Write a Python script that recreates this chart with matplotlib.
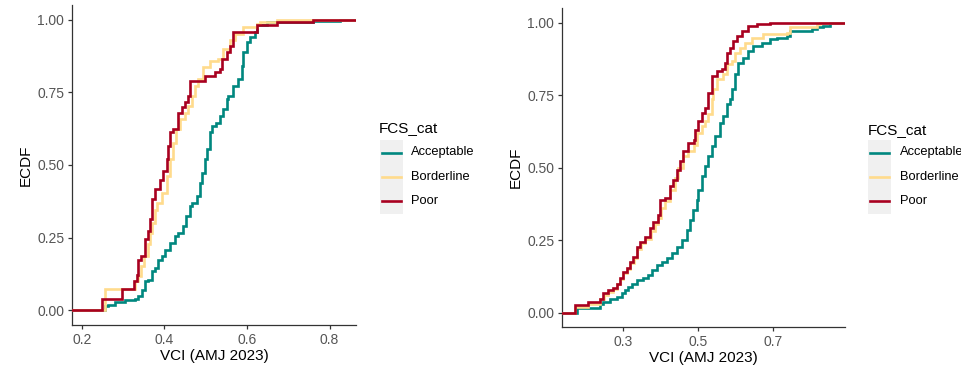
import numpy as np
import matplotlib
matplotlib.use("Agg")
import matplotlib.pyplot as plt
from matplotlib.lines import Line2D
from matplotlib.patches import Rectangle

plt.rcParams["font.family"] = ["Liberation Sans", "DejaVu Sans"]

categories = ["Acceptable", "Borderline", "Poor"]
colors = {"Acceptable": "#00877F", "Borderline": "#FFDB8C", "Poor": "#A8001F"}

# ECDF step points (VCI value, cumulative share) for the first panel
left_acceptable_x = [0.257, 0.264, 0.280, 0.304, 0.328, 0.336, 0.345, 0.353, 0.361, 0.369,
                     0.377, 0.385, 0.393, 0.401, 0.413, 0.425, 0.433, 0.445, 0.453, 0.462,
                     0.466, 0.478, 0.486, 0.490, 0.498, 0.502, 0.510, 0.514, 0.526, 0.535,
                     0.543, 0.551, 0.555, 0.567, 0.579, 0.587, 0.591, 0.599, 0.607, 0.620,
                     0.623, 0.648, 0.760, 0.825]
left_acceptable_y = [0.014, 0.020, 0.028, 0.037, 0.039, 0.048, 0.071, 0.100, 0.106, 0.134,
                     0.146, 0.175, 0.186, 0.209, 0.232, 0.255, 0.267, 0.290, 0.324, 0.359,
                     0.370, 0.393, 0.439, 0.474, 0.520, 0.554, 0.612, 0.634, 0.646, 0.669,
                     0.692, 0.727, 0.738, 0.772, 0.795, 0.841, 0.888, 0.922, 0.939, 0.957,
                     0.980, 0.990, 0.995, 1.000]

left_borderline_x = [0.256, 0.329, 0.335, 0.343, 0.351, 0.359, 0.366, 0.371, 0.378, 0.382,
                     0.393, 0.405, 0.413, 0.421, 0.429, 0.438, 0.450, 0.458, 0.466, 0.474,
                     0.482, 0.494, 0.510, 0.530, 0.543, 0.559, 0.571, 0.591, 0.623, 0.631,
                     0.672]
left_borderline_y = [0.074, 0.100, 0.117, 0.152, 0.186, 0.230, 0.265, 0.300, 0.345, 0.370,
                     0.405, 0.462, 0.520, 0.577, 0.623, 0.658, 0.680, 0.703, 0.738, 0.772,
                     0.795, 0.836, 0.859, 0.864, 0.899, 0.928, 0.951, 0.974, 0.985, 0.993,
                     1.000]

left_poor_x = [0.249, 0.296, 0.327, 0.333, 0.336, 0.343, 0.353, 0.359, 0.365, 0.370,
               0.377, 0.389, 0.397, 0.405, 0.409, 0.413, 0.421, 0.433, 0.442, 0.450,
               0.458, 0.462, 0.498, 0.522, 0.535, 0.539, 0.551, 0.559, 0.567, 0.623,
               0.672, 0.761]
left_poor_y = [0.040, 0.074, 0.100, 0.123, 0.175, 0.186, 0.244, 0.272, 0.313, 0.382,
               0.416, 0.450, 0.480, 0.520, 0.566, 0.612, 0.623, 0.680, 0.698, 0.715,
               0.738, 0.790, 0.807, 0.819, 0.830, 0.864, 0.888, 0.910, 0.956, 0.980,
               0.990, 1.000]

# ECDF step points for the second panel
right_acceptable_x = [0.177, 0.240, 0.248, 0.266, 0.284, 0.297, 0.306, 0.315, 0.324, 0.337,
                      0.355, 0.368, 0.377, 0.391, 0.404, 0.417, 0.431, 0.444, 0.457, 0.471,
                      0.479, 0.488, 0.497, 0.502, 0.511, 0.519, 0.528, 0.537, 0.546, 0.559,
                      0.568, 0.577, 0.586, 0.591, 0.599, 0.608, 0.622, 0.635, 0.648, 0.671,
                      0.693, 0.711, 0.737, 0.746, 0.804, 0.817, 0.835, 0.853, 0.857]
right_acceptable_y = [0.017, 0.029, 0.037, 0.045, 0.054, 0.066, 0.077, 0.089, 0.100, 0.112,
                      0.118, 0.129, 0.146, 0.164, 0.175, 0.187, 0.204, 0.227, 0.250, 0.285,
                      0.319, 0.354, 0.389, 0.423, 0.469, 0.504, 0.538, 0.573, 0.608, 0.654,
                      0.677, 0.718, 0.735, 0.769, 0.821, 0.862, 0.879, 0.902, 0.919, 0.931,
                      0.942, 0.948, 0.954, 0.971, 0.977, 0.983, 0.988, 0.997, 1.000]

right_borderline_x = [0.173, 0.208, 0.240, 0.250, 0.262, 0.275, 0.284, 0.293, 0.302, 0.311,
                      0.320, 0.330, 0.338, 0.348, 0.360, 0.375, 0.385, 0.395, 0.402, 0.413,
                      0.426, 0.439, 0.448, 0.462, 0.475, 0.489, 0.497, 0.511, 0.519, 0.528,
                      0.537, 0.542, 0.551, 0.568, 0.577, 0.591, 0.599, 0.613, 0.626, 0.644,
                      0.675, 0.737, 0.746, 0.817, 0.826]
right_borderline_y = [0.020, 0.030, 0.045, 0.060, 0.072, 0.080, 0.097, 0.115, 0.135, 0.150,
                      0.170, 0.188, 0.220, 0.238, 0.255, 0.282, 0.305, 0.325, 0.360, 0.383,
                      0.423, 0.464, 0.498, 0.538, 0.556, 0.579, 0.619, 0.642, 0.660, 0.683,
                      0.735, 0.769, 0.804, 0.821, 0.856, 0.867, 0.896, 0.913, 0.931, 0.948,
                      0.960, 0.965, 0.983, 0.994, 1.000]

right_poor_x = [0.173, 0.208, 0.240, 0.248, 0.262, 0.275, 0.284, 0.293, 0.302, 0.311,
                0.319, 0.328, 0.337, 0.346, 0.359, 0.373, 0.382, 0.395, 0.400, 0.413,
                0.426, 0.435, 0.444, 0.453, 0.462, 0.475, 0.489, 0.493, 0.502, 0.511,
                0.519, 0.528, 0.537, 0.551, 0.564, 0.573, 0.577, 0.586, 0.595, 0.604,
                0.617, 0.635, 0.657, 0.693, 0.746]
right_poor_y = [0.025, 0.037, 0.048, 0.066, 0.077, 0.083, 0.100, 0.118, 0.140, 0.152,
                0.175, 0.192, 0.227, 0.244, 0.262, 0.290, 0.313, 0.337, 0.389, 0.394,
                0.435, 0.458, 0.492, 0.521, 0.556, 0.585, 0.596, 0.631, 0.660, 0.689,
                0.706, 0.758, 0.815, 0.833, 0.838, 0.862, 0.896, 0.913, 0.936, 0.954,
                0.971, 0.988, 0.994, 0.998, 1.000]

panels = [
    {"x": {"Acceptable": left_acceptable_x, "Borderline": left_borderline_x, "Poor": left_poor_x},
     "y": {"Acceptable": left_acceptable_y, "Borderline": left_borderline_y, "Poor": left_poor_y},
     "xlim": (0.176, 0.864), "xticks": [0.2, 0.4, 0.6, 0.8],
     "rect": [72 / 962, 42 / 367, 284 / 962, 320 / 367],
     "legend": (379, 128, 380, 411)},
    {"x": {"Acceptable": right_acceptable_x, "Borderline": right_borderline_x, "Poor": right_poor_x},
     "y": {"Acceptable": right_acceptable_y, "Borderline": right_borderline_y, "Poor": right_poor_y},
     "xlim": (0.138, 0.893), "xticks": [0.3, 0.5, 0.7],
     "rect": [562 / 962, 40 / 367, 283 / 962, 319 / 367],
     "legend": (868, 130, 868, 900)},
]

W, H = 962, 367
fig = plt.figure(figsize=(W / 100, H / 100), dpi=100)

axis_col = "#333333"
tick_col = "#555555"

for p in panels:
    ax = fig.add_axes(p["rect"])
    ax.set_xlim(*p["xlim"])
    ax.set_ylim(-0.05, 1.05)
    lo, hi = p["xlim"]
    for cat in categories:
        xs = [lo] + list(p["x"][cat]) + [hi]
        ys = [0.0] + list(p["y"][cat]) + [p["y"][cat][-1]]
        ax.step(xs, ys, where="post", color=colors[cat], lw=1.9,
                solid_joinstyle="miter", zorder=3)
    ax.set_xticks(p["xticks"])
    ax.set_xticklabels([f"{t:g}" for t in p["xticks"]])
    ax.set_yticks([0, 0.25, 0.5, 0.75, 1.0])
    ax.set_yticklabels(["0.00", "0.25", "0.50", "0.75", "1.00"])
    for s in ["top", "right"]:
        ax.spines[s].set_visible(False)
    for s in ["left", "bottom"]:
        ax.spines[s].set_color(axis_col)
        ax.spines[s].set_linewidth(0.9)
    ax.tick_params(axis="both", length=3, width=0.9, color=axis_col,
                   labelcolor=tick_col, labelsize=10, pad=2.5)
    ax.set_xlabel("VCI (AMJ 2023)", fontsize=11, color="black", labelpad=2)
    ax.set_ylabel("ECDF", fontsize=11, color="black", labelpad=3)

    # legend drawn in figure pixel coordinates
    tx, ty, kx, lx = p["legend"]
    fig.text(tx / W, 1 - ty / H, "FCS_cat", fontsize=11, ha="left", va="center")
    fig.patches.append(Rectangle((kx / W, 1 - 214 / H), 23 / W, 74 / H,
                                 transform=fig.transFigure, facecolor="#F0F0F0",
                                 edgecolor="none"))
    for i, cat in enumerate(categories):
        yk = 1 - (152.5 + 24.5 * i) / H
        fig.lines.append(Line2D([(kx + 2) / W, (kx + 21) / W], [yk, yk],
                                transform=fig.transFigure, color=colors[cat], lw=1.9))
        fig.text(lx / W, yk, cat, fontsize=9.3, ha="left", va="center", color="black")

fig.savefig("out.png", dpi=100)
